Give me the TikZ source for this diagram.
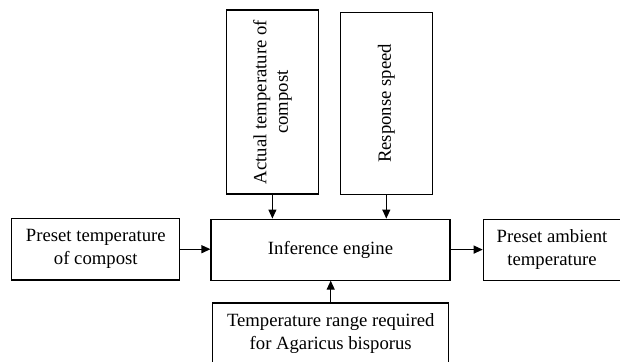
\documentclass[tikz,border=0pt]{standalone}
\usepackage{fontspec}
\usepackage{graphicx}
\setmainfont{Liberation Serif}
\usetikzlibrary{arrows.meta}

\tikzset{
  blk/.style={draw, line width=1.1pt, inner sep=0pt, align=center,
    font=\fontsize{18.7}{23}\selectfont},
  flow/.style={line width=1.1pt, -{Triangle[length=9pt,width=8pt]}}
}

\begin{document}
\begin{tikzpicture}[x=1pt,y=-1pt]
  \useasboundingbox (0,0) rectangle (620,361);
  \clip (0,0) rectangle (620,361);
  \fill[white] (0,0) rectangle (620,361);

  % central block
  \node[blk, minimum width=239pt, minimum height=61pt] (eng) at (330.5,249.6) {Inference engine};

  % inputs
  \node[blk, minimum width=168pt, minimum height=61.5pt] (pre) at (95.8,249.2)
    {Preset temperature\\of compost};
  \node[blk, minimum width=92.5pt, minimum height=184pt] (act) at (272.4,102)
    {\rotatebox{90}{\begin{tabular}{@{}c@{}}Actual temperature of\\[-1.5pt]compost\end{tabular}}};
  \node[blk, minimum width=92.5pt, minimum height=181.3pt] (rsp) at (386.3,103.4)
    {\rotatebox{90}{Response speed}};
  \node[blk, minimum width=236pt, minimum height=62pt] (req) at (330.7,334)
    {Temperature range required\\for Agaricus bisporus};

  % output
  \node[blk, minimum width=137.5pt, minimum height=61pt] (amb) at (552,249.6)
    {Preset ambient\\temperature};

  % connectors
  \draw[flow] (pre.east) -- (eng.west |- pre.east);
  \draw[flow] (act.south) -- (act.south |- eng.north);
  \draw[flow] (rsp.south) -- (rsp.south |- eng.north);
  \draw[flow] (req.north) -- (req.north |- eng.south);
  \draw[flow] (eng.east) -- (amb.west);
\end{tikzpicture}
\end{document}
